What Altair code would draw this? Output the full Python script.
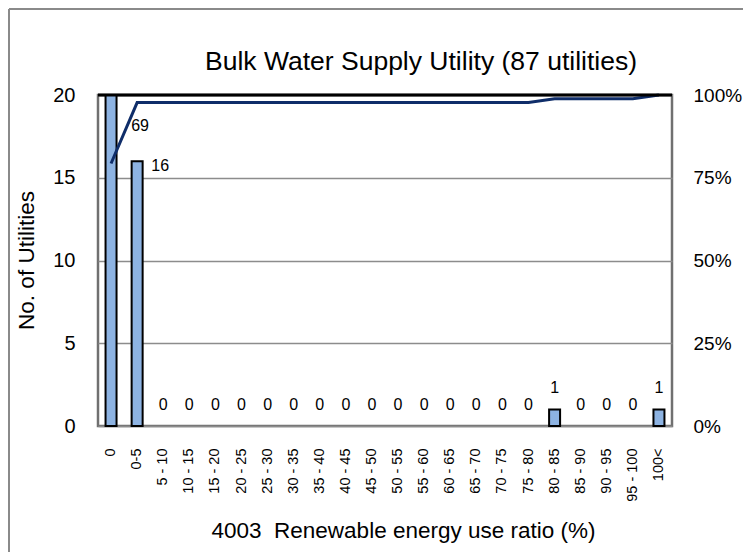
import altair as alt
import pandas as pd
import numpy as np

categories = ["0", "0-5", "5 - 10", "10 - 15", "15 - 20", "20 - 25", "25 - 30", "30 - 35",
              "35 - 40", "40 - 45", "45 - 50", "50 - 55", "55 - 60", "60 - 65", "65 - 70",
              "70 - 75", "75 - 80", "80 - 85", "85 - 90", "90 - 95", "95 - 100", "100<"]
counts = [69, 16, 0, 0, 0, 0, 0, 0, 0, 0, 0, 0, 0, 0, 0, 0, 0, 1, 0, 0, 0, 1]
left_ticks = [0, 5, 10, 15, 20]
right_ticks = [0, 0.25, 0.5, 0.75, 1.0]
title_text = "Bulk Water Supply Utility (87 utilities)"
x_title = "4003\u00a0 Renewable energy use ratio (%)"
y_title = "No. of Utilities"

df = pd.DataFrame({"cat": categories, "value": counts})
df["cum"] = np.cumsum(df["value"]) / df["value"].sum()
df["idx"] = range(len(df))

W, H = 574, 331
FONT = "Liberation Sans"

base = alt.Chart(df)


def xenc(with_axis=False):
    if with_axis:
        ax = alt.Axis(title=x_title, labelAngle=-90, labelFontSize=14.5,
                      labelPadding=22, ticks=False, tickSize=0, domain=False,
                      labelColor="black", titleColor="black",
                      titleFontSize=22.5, titleFontWeight="normal",
                      titleX=305, titleY=111, titleAlign="center",
                      titleBaseline="alphabetic", titleAnchor="middle")
        return alt.X("cat:N", sort=categories,
                     scale=alt.Scale(paddingInner=0, paddingOuter=0), axis=ax)
    return alt.X("cat:N", sort=categories)


y_left = alt.Y("value:Q",
               scale=alt.Scale(domain=[0, 20], clamp=True, nice=False, zero=True),
               axis=alt.Axis(title=y_title, values=left_ticks, grid=True,
                             gridColor="#8c8c8c", gridWidth=1.5,
                             ticks=False, tickSize=0, domain=False,
                             labelFontSize=20, labelPadding=23, labelColor="black",
                             titleFontSize=22.5, titleFontWeight="normal", titleColor="black",
                             titleX=-72, titleY=165, titleAlign="center",
                             titleBaseline="middle"))

bars = base.transform_filter("datum.value > 0").mark_bar(
    size=11, fill="#8DB3E2", stroke="black", strokeWidth=2).encode(
    x=xenc(True), y=y_left)

lab69 = base.transform_filter("datum.idx == 0").mark_text(
    fontSize=16, dx=29, dy=31, baseline="middle").encode(
    x=xenc(), y="value:Q", text="value:Q")
lab16 = base.transform_filter("datum.idx == 1").mark_text(
    fontSize=16, dx=23, dy=5, baseline="middle").encode(
    x=xenc(), y="value:Q", text="value:Q")
lab_small = base.transform_filter("datum.idx >= 2").mark_text(
    fontSize=16, dy=-21, baseline="middle").encode(
    x=xenc(), y="value:Q", text="value:Q")

one = alt.Data(values=[{"k": 1}])
top_rule = alt.Chart(one).mark_rule(color="black", strokeWidth=3).encode(
    x=alt.value(0), x2=alt.value(W), y=alt.value(0))
frame_left = alt.Chart(one).mark_rule(color="#8a8a8a", strokeWidth=2).encode(
    x=alt.value(-89), y=alt.value(-86), y2=alt.value(470))
frame_top = alt.Chart(one).mark_rule(color="#8a8a8a", strokeWidth=2).encode(
    x=alt.value(-89), x2=alt.value(700), y=alt.value(-86))
title = alt.Chart(one).mark_text(text=title_text, fontSize=26.5, align="center",
                                 baseline="alphabetic", color="black").encode(
    x=alt.value(323), y=alt.value(-25))

line = base.mark_line(color="#0F2D69", strokeWidth=3).encode(
    x=xenc(),
    y=alt.Y("cum:Q", scale=alt.Scale(domain=[0, 1], nice=False),
            axis=alt.Axis(orient="right", title=None, values=right_ticks, format=".0%",
                          grid=False, ticks=False, tickSize=0, domain=False,
                          labelFontSize=19, labelPadding=21, labelColor="black")))

left = alt.layer(bars, lab69, lab16, lab_small, frame_left, frame_top, title)
chart = alt.layer(left, line, top_rule).resolve_scale(y="independent").properties(
    width=W, height=H,
    autosize=alt.AutoSizeParams(type="none"),
    padding={"left": 90, "top": 87, "right": 71, "bottom": 126},
).configure(font=FONT).configure_view(stroke="#707070", strokeWidth=2.5)

chart.save("out.html", embed_options={"renderer": "svg", "actions": False})
